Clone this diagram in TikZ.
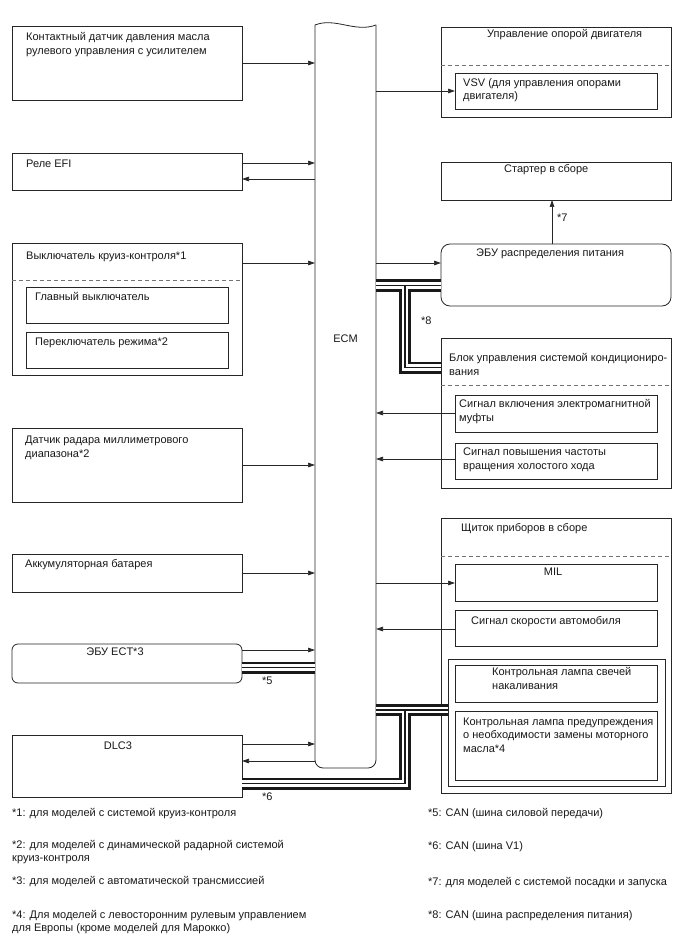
\documentclass[tikz,border=0pt]{standalone}
\usepackage{fontspec}
\setmainfont{Liberation Sans}
\usetikzlibrary{arrows.meta}
\begin{document}
\begin{tikzpicture}[x=1pt,y=-1pt,
  box/.style={draw=black!85, line width=0.8pt, inner sep=0pt, outer sep=0pt, anchor=north west},
  dsh/.style={draw=black!55, line width=0.8pt, dash pattern=on 4pt off 3pt},
  txt/.style={font=\fontsize{11}{13.5}\selectfont, inner sep=0pt, align=left, anchor=base west, text=black!90},
  ctxt/.style={font=\fontsize{11}{13.5}\selectfont, inner sep=0pt, anchor=base, text=black!90},
  arr/.style={-{Triangle[length=7pt,width=4.5pt]}, line width=0.7pt, draw=black!85},
  busa/.style={line width=12pt, draw=black!90},
  busb/.style={line width=6.5pt, draw=white},
  busc/.style={line width=1.2pt, draw=black!90},
]
\useasboundingbox[fill=white] (0,0) rectangle (688,949);

% ---- left boxes
\node[box, minimum width=230, minimum height=74] (b1) at (12,26) {};
\node[box, minimum width=230, minimum height=37] (b2) at (12,153) {};
\node[box, minimum width=230, minimum height=132] (b3) at (12,243) {};
\node[box, minimum width=202, minimum height=36] (b3a) at (26,287) {};
\node[box, minimum width=202, minimum height=36] (b3b) at (26,332) {};
\node[box, minimum width=230, minimum height=74] (b4) at (12,428) {};
\node[box, minimum width=230, minimum height=38] (b5) at (12,554) {};
\node[box, minimum width=230, minimum height=39, rounded corners=6pt] (b6) at (12,644) {};
\node[box, minimum width=230, minimum height=62] (b7) at (12,735) {};
\draw[dsh] (b3.west |- 0,280) -- (b3.east |- 0,280);

% ---- right boxes
\node[box, minimum width=230, minimum height=90] (r1) at (441,27) {};
\node[box, minimum width=202, minimum height=36] (r1a) at (455,73) {};
\node[box, minimum width=230, minimum height=38] (r2) at (441,162) {};
\node[box, minimum width=230, minimum height=62, rounded corners=9pt] (r3) at (441,244) {};
\node[box, minimum width=230, minimum height=150] (r4) at (441,338) {};
\node[box, minimum width=202, minimum height=37] (r4a) at (455,395) {};
\node[box, minimum width=202, minimum height=36] (r4b) at (455,443) {};
\node[box, minimum width=230, minimum height=275] (r5) at (441,518) {};
\node[box, minimum width=202, minimum height=37] (r5a) at (455,564) {};
\node[box, minimum width=202, minimum height=36] (r5b) at (455,610) {};
\node[box, minimum width=217, minimum height=127] (r5c) at (448,659) {};
\node[box, minimum width=202, minimum height=37] (r5d) at (455,665) {};
\node[box, minimum width=202, minimum height=69] (r5e) at (455,711) {};
\draw[dsh] (r1.west |- 0,65) -- (r1.east |- 0,65);
\draw[dsh] (r4.west |- 0,385) -- (r4.east |- 0,385);
\draw[dsh] (r5.west |- 0,556) -- (r5.east |- 0,556);

% ---- ECM
\node[inner sep=0pt, outer sep=0pt, minimum width=61, minimum height=746, anchor=north west] (ecm) at (315,22) {};
\draw[draw=black!85, line width=0.8pt, rounded corners=8pt] (ecm.west |- 0,25) -- (ecm.south west) -- (ecm.south east) -- (ecm.east |- 0,25);
\draw[draw=black!85, line width=0.8pt] (ecm.west |- 0,25) .. controls (335,17) and (355,33) .. (ecm.east |- 0,25);
\node[ctxt] (ecml) at (345.5,342) {ECM};

% ---- bus coordinates
\path (ecm.east |- 0,285.5) coordinate (p1)
      (r3.west |- 0,285.5) coordinate (p2)
      (405,285.5) coordinate (j1)
      (405,367.5) coordinate (j2)
      (r4.west |- 0,367.5) coordinate (p3)
      (b6.east |- 0,667.5) coordinate (e1)
      (ecm.west |- 0,667.5) coordinate (e2)
      (ecm.east |- 0,710) coordinate (m1)
      (r5c.west |- 0,710) coordinate (m2)
      (405,710) coordinate (j3)
      (405,783.5) coordinate (j4)
      (b7.east |- 0,783.5) coordinate (m3);
\foreach \s in {busa,busb,busc}{
  \draw[\s] (p1) -- (p2);
  \draw[\s] (j1) -- (j2) -- (p3);
  \draw[\s] (e1) -- (e2);
  \draw[\s] (m1) -- (m2);
  \draw[\s] (j3) -- (j4) -- (m3);
}

% ---- arrows left
\draw[arr] (b1.east |- 0,63) -- (ecm.west |- 0,63);
\draw[arr] (b2.east |- 0,163) -- (ecm.west |- 0,163);
\draw[arr] (ecm.west |- 0,179) -- (b2.east |- 0,179);
\draw[arr] (b3.east |- 0,263) -- (ecm.west |- 0,263);
\draw[arr] (b4.east |- 0,465) -- (ecm.west |- 0,465);
\draw[arr] (b5.east |- 0,573) -- (ecm.west |- 0,573);
\draw[arr] (b6.east |- 0,650) -- (ecm.west |- 0,650);
\draw[arr] (b7.east |- 0,744) -- (ecm.west |- 0,744);
\draw[arr] (ecm.west |- 0,761) -- (b7.east |- 0,761);
% ---- arrows right
\draw[arr] (ecm.east |- 0,91) -- (r1a.west |- 0,91);
\draw[arr] (ecm.east |- 0,263) -- (r3.west |- 0,263);
\draw[arr] (r3.north -| 552,0) -- (r2.south -| 552,0);
\draw[arr] (r4a.west |- 0,413) -- (ecm.east |- 0,413);
\draw[arr] (r4b.west |- 0,459) -- (ecm.east |- 0,459);
\draw[arr] (ecm.east |- 0,583) -- (r5a.west |- 0,583);
\draw[arr] (r5b.west |- 0,629) -- (ecm.east |- 0,629);

% ---- texts left (multi-line nodes: base = last line)
\node[txt] (t1) at (26,54.5) {Контактный датчик давления масла\\рулевого управления с усилителем};
\node[txt] (t2) at (26,168) {Реле EFI};
\node[txt] (t3) at (26,260) {Выключатель круиз-контроля*1};
\node[txt] (t3a) at (35,300.5) {Главный выключатель};
\node[txt] (t3b) at (35,345.5) {Переключатель режима*2};
\node[txt] (t4) at (25,457) {Датчик радара миллиметрового\\диапазона*2};
\node[txt] (t5) at (25,567) {Аккумуляторная батарея};
\node[ctxt] (t6) at (115,655.5) {ЭБУ ECT*3};
\node[ctxt] (t7) at (118,749) {DLC3};
\node[txt] (s5) at (262,684) {*5};
\node[txt] (s6) at (262,800) {*6};
% ---- texts right
\node[txt] (u1) at (487,37.5) {Управление опорой двигателя};
\node[txt] (u1a) at (463,100) {VSV (для управления опорами\\двигателя)};
\node[txt] (u2) at (504,172.5) {Стартер в сборе};
\node[txt] (s7) at (557,221.5) {*7};
\node[txt] (u3) at (476,256.5) {ЭБУ распределения питания};
\node[txt] (s8) at (421,324) {*8};
\node[txt] (u4) at (449,375) {Блок управления системой кондициониро-\\вания};
\node[txt] (u4a) at (459,421) {Сигнал включения электромагнитной\\муфты};
\node[txt] (u4b) at (463,469) {Сигнал повышения частоты\\вращения холостого хода};
\node[txt] (u5) at (461,531) {Щиток приборов в сборе};
\node[ctxt] (u5a) at (553,575.5) {MIL};
\node[txt] (u5b) at (471,624) {Сигнал скорости автомобиля};
\node[txt] (u5d) at (492,689) {Контрольная лампа свечей\\накаливания};
\node[txt] (u5e) at (463,752) {Контрольная лампа предупреждения\\о необходимости замены моторного\\масла*4};
% ---- footnotes
\node[txt] (f1) at (12,816) {*1: для моделей с системой круиз-контроля};
\node[txt] (f2) at (12,861.5) {*2: для моделей с динамической радарной системой\\круиз-контроля};
\node[txt] (f3) at (12,884) {*3: для моделей с автоматической трансмиссией};
\node[txt] (f4) at (12,931.5) {*4: Для моделей с левосторонним рулевым управлением\\для Европы (кроме моделей для Марокко)};
\node[txt] (f5) at (428,816) {*5: CAN (шина силовой передачи)};
\node[txt] (f6) at (428,849) {*6: CAN (шина V1)};
\node[txt] (f7) at (428,885) {*7: для моделей с системой посадки и запуска};
\node[txt] (f8) at (428,918) {*8: CAN (шина распределения питания)};
\end{tikzpicture}
\end{document}
